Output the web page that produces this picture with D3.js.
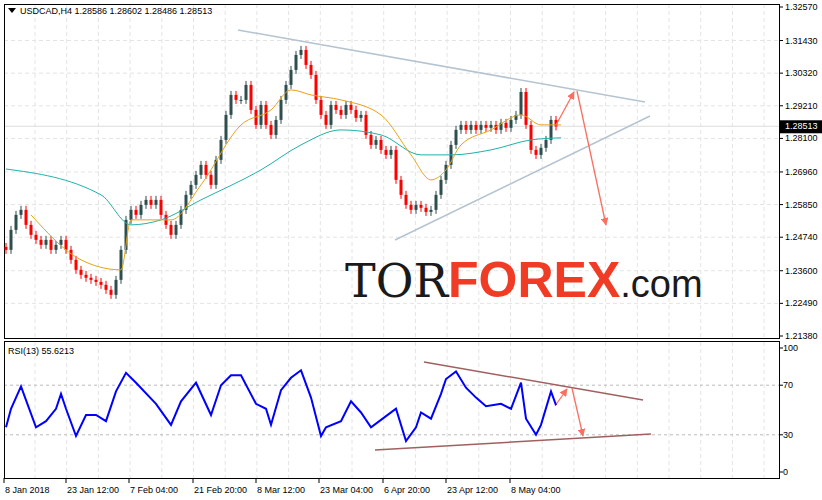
<!DOCTYPE html>
<html><head><meta charset="utf-8">
<script src="https://cdn.jsdelivr.net/npm/d3@7"></script>
<style>body{margin:0;background:#fff}text{font-family:"Liberation Sans",sans-serif}</style>
</head><body><div id="chart"></div>
<script>
// closes of the H4 chart, sampled
let closes = [1.2431,1.2499,1.2550,1.2567,1.2516,1.2482,1.2465,1.2448,1.2465,1.2431,1.2448,1.2465,1.2431,1.2397,1.2363,1.2346,1.2336,1.2329,1.2322,1.2312,1.2295,1.2278,1.2329,1.2431,1.2533,1.2567,1.2550,1.2584,1.2601,1.2584,1.2601,1.2550,1.2516,1.2482,1.2516,1.2567,1.2618,1.2652,1.2686,1.2720,1.2686,1.2652,1.2737,1.2805,1.2890,1.2958,1.2941,1.2941,1.2992,1.2907,1.2856,1.2924,1.2856,1.2822,1.2873,1.2941,1.2992,1.3043,1.3094,1.3111,1.3060,1.3026,1.2941,1.2890,1.2856,1.2924,1.2907,1.2890,1.2924,1.2907,1.2880,1.2890,1.2822,1.2788,1.2805,1.2771,1.2754,1.2771,1.2669,1.2618,1.2584,1.2567,1.2584,1.2574,1.2560,1.2567,1.2618,1.2669,1.2720,1.2788,1.2839,1.2856,1.2839,1.2856,1.2839,1.2856,1.2846,1.2856,1.2839,1.2863,1.2846,1.2873,1.2890,1.2968,1.2856,1.2771,1.2754,1.2778,1.2805,1.2873,1.2851];
// moving averages [bar index, price]
let maSlow = [[0,1.2706],[19,1.2618],[25,1.2516],[31,1.2533],[39,1.2601],[51,1.2703],[59,1.2788],[67,1.2839],[75,1.2822],[83,1.2754],[89,1.2754],[97,1.2771],[105,1.2805],[111,1.2812]];
let maFast = [[5,1.2550],[15,1.2397],[23,1.2363],[25,1.2533],[33,1.2533],[39,1.2652],[47,1.2856],[53,1.2907],[57,1.2975],[61,1.2958],[67,1.2941],[75,1.2890],[81,1.2754],[85,1.2669],[88,1.2703],[91,1.2788],[97,1.2839],[103,1.2890],[107,1.2856],[111,1.2856]];
// RSI(13) [bar index, value]
let rsi = [[0,36],[1,51],[3,69],[4,58],[6,36],[8,41],[10,51],[11,63],[12,51],[14,29],[16,46],[18,46],[20,41],[22,65],[24,80],[26,72],[30,55],[33,38],[35,57],[38,72],[41,46],[43,70],[45,78],[47,78],[50,55],[52,51],[53,38],[55,66],[57,76],[59,82],[61,60],[63,29],[64,36],[67,41],[69,57],[71,48],[73,36],[75,42],[78,51],[80,25],[82,36],[83,48],[85,43],[87,63],[88,75],[90,81],[92,68],[94,60],[96,53],[99,55],[101,51],[103,72],[104,43],[106,30],[107,38],[109,65],[110,54]];
let priceTicks = [1.32570,1.31430,1.30320,1.29210,1.28100,1.26960,1.25850,1.24740,1.23600,1.22490,1.21380];
let rsiTicks = [100,70,30,0];
let dateLabels = ["8 Jan 2018","23 Jan 12:00","7 Feb 04:00","21 Feb 20:00","8 Mar 12:00","23 Mar 04:00","6 Apr 20:00","23 Apr 12:00","8 May 04:00"];
let datePos = [0,12.4,25,37.8,50.4,63,75.8,88.4,101.2];
let lastPrice = 1.28513;

const W = 822, H = 500, L = 4, R = 779;
const svg = d3.select("#chart").append("svg").attr("width", W).attr("height", H);
let x = d3.scaleLinear().domain([0, 155]).range([L + 2, R + 2]);
let y = d3.scaleLinear().domain([1.21380, 1.32570]).range([336, 7]);
let yr = d3.scaleLinear().domain([0, 100]).range([472, 348]);

// grid
let grid = svg.append("g").attr("stroke", "#e4e4e4").attr("stroke-dasharray", "4,3");
for (let gx = 35; gx < R; gx += 31.7) {
  grid.append("line").attr("x1", gx).attr("x2", gx).attr("y1", 4).attr("y2", 338);
  grid.append("line").attr("x1", gx).attr("x2", gx).attr("y1", 342).attr("y2", 478);
}
priceTicks.slice(1, -1).forEach(t => grid.append("line").attr("x1", L).attr("x2", R).attr("y1", y(t)).attr("y2", y(t)));
[70, 30].forEach(t => svg.append("line").attr("x1", L).attr("x2", R).attr("y1", yr(t)).attr("y2", yr(t))
  .attr("stroke", "#bbb").attr("stroke-dasharray", "3,3"));
svg.append("line").attr("x1", L).attr("x2", R).attr("y1", y(lastPrice)).attr("y2", y(lastPrice)).attr("stroke", "#ddd");

// frames
svg.append("rect").attr("x", 4.5).attr("y", 4.5).attr("width", R - 4).attr("height", 334).attr("fill", "none").attr("stroke", "#000");
svg.append("rect").attr("x", 4.5).attr("y", 341.5).attr("width", R - 4).attr("height", 137).attr("fill", "none").attr("stroke", "#000");

// candles
let prev = closes[0] + 0.0010;
let candles = closes.map((c, i) => { let o = prev; prev = c; return {i: i, o: o, c: c}; });
let cg = svg.append("g");
candles.forEach(d => {
  let col = d.c >= d.o ? "#2f4f4f" : "#ff0000";
  cg.append("line").attr("x1", x(d.i)).attr("x2", x(d.i))
    .attr("y1", y(Math.max(d.o, d.c)) - 4).attr("y2", y(Math.min(d.o, d.c)) + 4).attr("stroke", col);
  cg.append("rect").attr("x", x(d.i) - 1.5).attr("width", 3)
    .attr("y", y(Math.max(d.o, d.c))).attr("height", Math.max(1, Math.abs(y(d.o) - y(d.c)))).attr("fill", col);
});
let line = d3.line().x(d => x(d[0])).y(d => y(d[1])).curve(d3.curveMonotoneX);
svg.append("path").attr("d", line(maSlow)).attr("fill", "none").attr("stroke", "#20b2aa").attr("stroke-width", 1);
svg.append("path").attr("d", line(maFast)).attr("fill", "none").attr("stroke", "#e8a317").attr("stroke-width", 1);

// trend lines and arrows
svg.append("defs").append("marker").attr("id", "ah").attr("viewBox", "0 0 10 10").attr("refX", 9).attr("refY", 5)
  .attr("markerWidth", 6).attr("markerHeight", 6).attr("orient", "auto")
  .append("path").attr("d", "M0,0L10,5L0,10z").attr("fill", "#f87060");
let tl = (x1, y1, x2, y2, c, w) => svg.append("line").attr("x1", x1).attr("y1", y1).attr("x2", x2).attr("y2", y2).attr("stroke", c).attr("stroke-width", w);
tl(238, 30, 645, 102, "#b4c4d0", 1.5);
tl(395, 240, 650, 116, "#b4c4d0", 1.5);
tl(556, 125, 574, 92, "#f87060", 1.3).attr("marker-end", "url(#ah)");
tl(577, 91, 606, 225, "#f87060", 1.3).attr("marker-end", "url(#ah)");
tl(424, 362, 643, 400, "#a06060", 1.5);
tl(375, 450, 651, 434, "#a06060", 1.5);
tl(555, 406, 567, 389, "#f87060", 1.3).attr("marker-end", "url(#ah)");
tl(572, 388, 583, 436, "#f87060", 1.3).attr("marker-end", "url(#ah)");

// RSI
let rline = d3.line().x(d => x(d[0])).y(d => yr(d[1]));
svg.append("path").attr("d", rline(rsi)).attr("fill", "none").attr("stroke", "#0000ff").attr("stroke-width", 2);

// logo
let logo = svg.append("text").attr("x", 345).attr("y", 297).attr("font-size", 50);
logo.append("tspan").text("TOR").attr("font-family", "DejaVu Serif").attr("fill", "#1a1a1a").attr("font-size", 46);
logo.append("tspan").text("FOREX").attr("font-family", "Liberation Sans").attr("font-weight", "bold").attr("fill", "#f03c24");
logo.append("tspan").text(".com").attr("font-family", "Liberation Sans").attr("font-size", 38).attr("fill", "#1a1a1a");

// axes labels
let ax = svg.append("g").attr("font-size", 9).attr("fill", "#000");
priceTicks.forEach(t => {
  ax.append("line").attr("x1", R).attr("x2", R + 4).attr("y1", y(t)).attr("y2", y(t)).attr("stroke", "#000");
  ax.append("text").attr("x", 785).attr("y", y(t) + 3).text(t.toFixed(5));
});
svg.append("rect").attr("x", 779).attr("y", y(lastPrice) - 6).attr("width", 43).attr("height", 13).attr("fill", "#000");
svg.append("text").attr("x", 785).attr("y", y(lastPrice) + 3).attr("font-size", 9).attr("fill", "#fff").text(lastPrice.toFixed(5));
rsiTicks.forEach(t => {
  ax.append("line").attr("x1", R).attr("x2", R + 4).attr("y1", yr(t)).attr("y2", yr(t)).attr("stroke", "#000");
  ax.append("text").attr("x", 783).attr("y", yr(t) + 3).text(t);
});
dateLabels.forEach((lab, i) => {
  let px = x(datePos[i]) - 2;
  ax.append("line").attr("x1", px).attr("x2", px).attr("y1", 478).attr("y2", 483).attr("stroke", "#000");
  ax.append("text").attr("x", px + 1).attr("y", 493).attr("font-family", "Liberation Sans Narrow").text(lab);
});
svg.append("path").attr("d", "M8,8L16,8L12,13z").attr("fill", "#000");
svg.append("text").attr("x", 20).attr("y", 14).attr("font-size", 9).text("USDCAD,H4  1.28586 1.28602 1.28486 1.28513");
svg.append("text").attr("x", 8).attr("y", 354).attr("font-size", 9).text("RSI(13) 55.6213");
</script></body></html>
